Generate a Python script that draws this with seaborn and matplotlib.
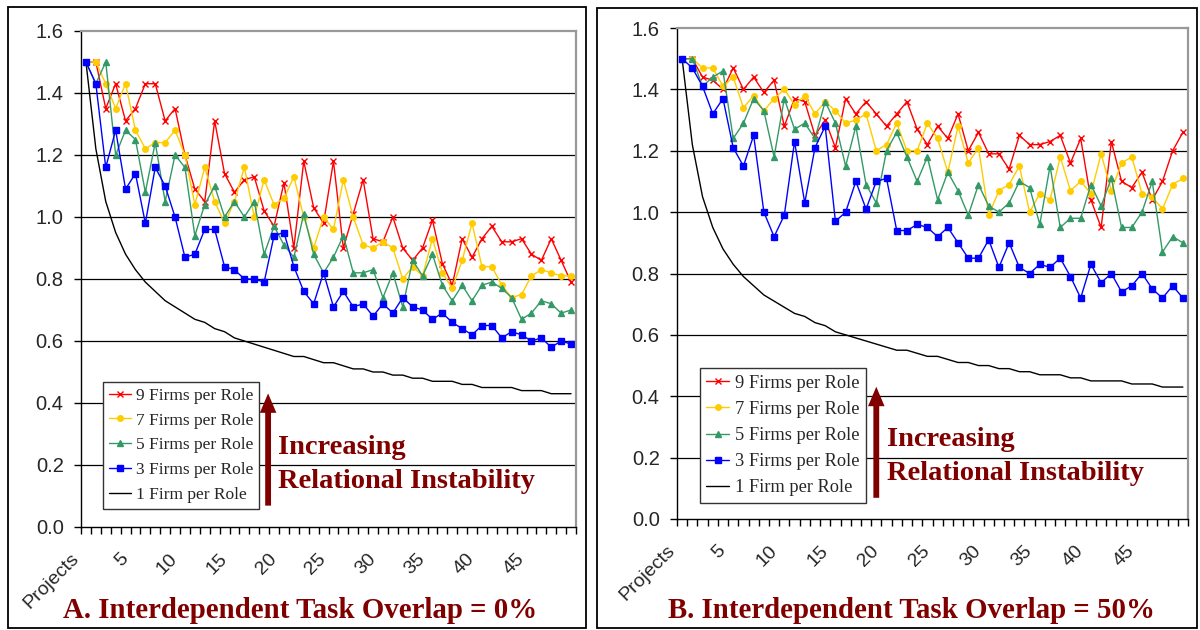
import numpy as np
import seaborn as sns
import matplotlib.pyplot as plt
from matplotlib.patches import Rectangle
from matplotlib.transforms import ScaledTranslation

sns.set_style("white")
plt.rcParams["font.family"] = ["Liberation Sans", "DejaVu Sans"]

# Datos: 50 proyectos por serie
project = list(range(50))
x_tick_pos = [0, 5, 10, 15, 20, 25, 30, 35, 40, 45]
x_tick_labels = ["Projects", "5", "10", "15", "20", "25", "30", "35", "40", "45"]
y_ticks = [0.0, 0.2, 0.4, 0.6, 0.8, 1.0, 1.2, 1.4, 1.6]

series_names = ["9 Firms per Role", "7 Firms per Role", "5 Firms per Role",
                "3 Firms per Role", "1 Firm per Role"]

# A. Interdependent Task Overlap = 0%
red_a = [1.50, 1.50, 1.35, 1.43, 1.31, 1.35, 1.43, 1.43, 1.31, 1.35,
         1.20, 1.09, 1.05, 1.31, 1.14, 1.08, 1.12, 1.13, 1.02, 0.97,
         1.11, 0.90, 1.18, 1.03, 0.98, 1.18, 0.90, 1.01, 1.12, 0.93,
         0.92, 1.00, 0.90, 0.86, 0.90, 0.99, 0.85, 0.78, 0.93, 0.87,
         0.93, 0.97, 0.92, 0.92, 0.93, 0.88, 0.86, 0.93, 0.86, 0.79]
orange_a = [1.50, 1.50, 1.43, 1.35, 1.43, 1.28, 1.22, 1.24, 1.24, 1.28,
            1.20, 1.04, 1.16, 1.05, 0.98, 1.05, 1.16, 1.00, 1.12, 1.04,
            1.06, 1.13, 1.00, 0.90, 1.00, 0.96, 1.12, 1.00, 0.91, 0.90,
            0.92, 0.90, 0.80, 0.84, 0.81, 0.93, 0.82, 0.77, 0.86, 0.98,
            0.84, 0.84, 0.78, 0.74, 0.75, 0.81, 0.83, 0.82, 0.81, 0.81]
green_a = [1.50, 1.43, 1.50, 1.20, 1.28, 1.25, 1.08, 1.24, 1.05, 1.20,
           1.16, 0.94, 1.04, 1.10, 1.00, 1.05, 1.00, 1.05, 0.88, 0.97,
           0.91, 0.87, 1.01, 0.88, 0.82, 0.87, 0.94, 0.82, 0.82, 0.83,
           0.74, 0.82, 0.71, 0.86, 0.81, 0.88, 0.78, 0.73, 0.78, 0.73,
           0.78, 0.79, 0.77, 0.74, 0.67, 0.69, 0.73, 0.72, 0.69, 0.70]
blue_a = [1.50, 1.43, 1.16, 1.28, 1.09, 1.14, 0.98, 1.16, 1.10, 1.00,
          0.87, 0.88, 0.96, 0.96, 0.84, 0.83, 0.80, 0.80, 0.79, 0.94,
          0.95, 0.84, 0.76, 0.72, 0.82, 0.71, 0.76, 0.71, 0.72, 0.68,
          0.72, 0.69, 0.74, 0.71, 0.70, 0.67, 0.69, 0.66, 0.64, 0.62,
          0.65, 0.65, 0.61, 0.63, 0.62, 0.60, 0.61, 0.58, 0.60, 0.59]

# B. Interdependent Task Overlap = 50%
red_b = [1.50, 1.50, 1.44, 1.43, 1.40, 1.47, 1.40, 1.44, 1.39, 1.43,
         1.28, 1.37, 1.36, 1.25, 1.30, 1.21, 1.37, 1.32, 1.36, 1.32,
         1.28, 1.32, 1.36, 1.27, 1.22, 1.28, 1.24, 1.32, 1.20, 1.26,
         1.19, 1.19, 1.14, 1.25, 1.22, 1.22, 1.23, 1.25, 1.16, 1.24,
         1.04, 0.95, 1.23, 1.10, 1.08, 1.13, 1.04, 1.10, 1.20, 1.26]
orange_b = [1.50, 1.50, 1.47, 1.47, 1.41, 1.44, 1.34, 1.38, 1.33, 1.37,
            1.40, 1.35, 1.38, 1.32, 1.36, 1.33, 1.29, 1.30, 1.32, 1.20,
            1.22, 1.29, 1.20, 1.20, 1.29, 1.24, 1.13, 1.28, 1.16, 1.21,
            0.99, 1.07, 1.09, 1.15, 1.00, 1.06, 1.04, 1.18, 1.07, 1.10,
            1.06, 1.19, 1.07, 1.16, 1.18, 1.06, 1.05, 1.01, 1.09, 1.11]
green_b = [1.50, 1.50, 1.41, 1.44, 1.46, 1.24, 1.29, 1.37, 1.33, 1.18,
           1.37, 1.27, 1.29, 1.24, 1.36, 1.29, 1.15, 1.28, 1.09, 1.03,
           1.20, 1.26, 1.18, 1.10, 1.18, 1.04, 1.13, 1.07, 0.99, 1.09,
           1.02, 1.00, 1.03, 1.10, 1.08, 0.96, 1.15, 0.95, 0.98, 0.98,
           1.09, 1.02, 1.11, 0.95, 0.95, 1.00, 1.10, 0.87, 0.92, 0.90]
blue_b = [1.50, 1.47, 1.41, 1.32, 1.37, 1.21, 1.15, 1.25, 1.00, 0.92,
          0.99, 1.23, 1.03, 1.21, 1.28, 0.97, 1.00, 1.10, 1.01, 1.10,
          1.11, 0.94, 0.94, 0.96, 0.95, 0.92, 0.95, 0.90, 0.85, 0.85,
          0.91, 0.82, 0.90, 0.82, 0.80, 0.83, 0.82, 0.85, 0.79, 0.72,
          0.83, 0.77, 0.80, 0.74, 0.76, 0.80, 0.75, 0.72, 0.76, 0.72]

# 1 Firm per Role (igual en ambos paneles)
black_ab = [1.50, 1.22, 1.05, 0.95, 0.88, 0.83, 0.79, 0.76, 0.73, 0.71,
            0.69, 0.67, 0.66, 0.64, 0.63, 0.61, 0.60, 0.59, 0.58, 0.57,
            0.56, 0.55, 0.55, 0.54, 0.53, 0.53, 0.52, 0.51, 0.51, 0.50,
            0.50, 0.49, 0.49, 0.48, 0.48, 0.47, 0.47, 0.47, 0.46, 0.46,
            0.45, 0.45, 0.45, 0.45, 0.44, 0.44, 0.44, 0.43, 0.43, 0.43]

colors = ["#FF0000", "#FFCC00", "#339966", "#0000FF", "black"]
markers = ["x", "o", "^", "s", None]
msizes = [4.5, 4, 4.5, 4, 0]
maroon = "#800000"

W, H = 1200, 630
fig = plt.figure(figsize=(12, 6.3), dpi=100)


def px_box(x0, y0, x1, y1):
    # caja en pixeles (origen arriba-izquierda) -> coordenadas de figura
    return [x0 / W, 1 - y1 / H, (x1 - x0) / W, (y1 - y0) / H]


def panel(rect, data, title, title_x, legend_anchor, legend_size, arrow_x, text_xy):
    ax = fig.add_axes(rect)
    for vals, name, c, m, ms in zip(data, series_names, colors, markers, msizes):
        sns.lineplot(x=project, y=vals, ax=ax, color=c, marker=m, markersize=ms,
                     markeredgecolor=c, markeredgewidth=1, linewidth=1,
                     label=name, zorder=1.5 if m is None else 2)
    ax.set_xlim(-0.5, 49.5)
    ax.set_ylim(0, 1.6)
    ax.set_xlabel("")
    ax.set_ylabel("")
    for y in y_ticks[1:-1]:
        ax.axhline(y, color="black", lw=0.9, zorder=1)
    ax.set_yticks(y_ticks, labels=[f"{v:.1f}" for v in y_ticks])
    ax.set_xticks(np.arange(-0.5, 50, 1), labels=[])
    ax.set_xticks(x_tick_pos, labels=x_tick_labels, minor=True)
    ax.tick_params(axis="y", direction="out", length=5, width=1, color="black",
                   labelsize=14.5, pad=7.5, left=True)
    ax.tick_params(axis="x", which="major", direction="out", length=5, width=1,
                   color="black", bottom=True)
    ax.tick_params(axis="x", which="minor", length=0, labelsize=14, pad=11)
    shift = ScaledTranslation(-16 / 100, -8 / 100, fig.dpi_scale_trans)
    for lbl in ax.get_xticklabels(minor=True):
        lbl.set_rotation(45)
        lbl.set_ha("right")
        lbl.set_rotation_mode("anchor")
        lbl.set_transform(lbl.get_transform() + shift)
    for s in ["left", "bottom"]:
        ax.spines[s].set_color("black")
        ax.spines[s].set_linewidth(1)
    for s in ["top", "right"]:
        ax.spines[s].set_color("#999999")
        ax.spines[s].set_linewidth(1.6)
    leg = ax.legend(loc="lower left", bbox_to_anchor=legend_anchor, borderaxespad=0,
                    frameon=True, fancybox=False, framealpha=1, edgecolor="#333333",
                    prop={"family": "Liberation Serif", "size": legend_size},
                    handlelength=1.25, handletextpad=0.3, labelspacing=0.5,
                    borderpad=0.35)
    leg.get_frame().set_linewidth(1)
    ax.annotate("", xy=(arrow_x, 0.44), xytext=(arrow_x, 0.06),
                arrowprops=dict(arrowstyle="simple,head_length=1.0,head_width=0.85,tail_width=0.3",
                                mutation_scale=14, color=maroon, lw=0))
    tx, ty1, ty2 = text_xy
    fig.text(tx / W, 1 - ty1 / H, "Increasing", family="Liberation Serif",
             weight="bold", size=20.5, color=maroon, va="center", ha="left")
    fig.text(tx / W, 1 - ty2 / H, "Relational Instability", family="Liberation Serif",
             weight="bold", size=20.5, color=maroon, va="center", ha="left")
    fig.text(title_x / W, 1 - 611 / H, title, family="Liberation Serif",
             weight="bold", size=20.8, color=maroon, va="center", ha="center")
    return ax


panel(px_box(81, 31, 576, 527), [red_a, orange_a, green_a, blue_a, black_ab],
      "A. Interdependent Task Overlap = 0%", 300, (0.044, 0.036), 12.5, 18.4,
      (278, 447, 481))
panel(px_box(677, 28, 1188, 519), [red_b, orange_b, green_b, blue_b, black_ab],
      "B. Interdependent Task Overlap = 50%", 912, (0.045, 0.033), 13.2, 19.0,
      (887, 440, 473))

# marcos exteriores de cada grafico
for (x0, y0, x1, y1) in [(8, 7, 586, 628), (597, 8, 1197, 628)]:
    fig.add_artist(Rectangle((x0 / W, 1 - y1 / H), (x1 - x0) / W, (y1 - y0) / H,
                             transform=fig.transFigure, fill=False,
                             edgecolor="black", lw=1.3))

plt.savefig("out.png", dpi=100)
plt.close()
